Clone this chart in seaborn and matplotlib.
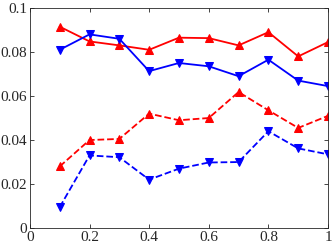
import numpy as np
import matplotlib
matplotlib.use("Agg")
import matplotlib.pyplot as plt
import seaborn as sns
import pandas as pd

x = [0.1, 0.2, 0.3, 0.4, 0.5, 0.6, 0.7, 0.8, 0.9, 1.0]
red_solid = [0.0915, 0.0848, 0.0830, 0.0810, 0.0865, 0.0863, 0.0830, 0.0890, 0.0780, 0.0845]
blue_solid = [0.0810, 0.0880, 0.0860, 0.0713, 0.0750, 0.0735, 0.0690, 0.0765, 0.0670, 0.0645]
red_dashed = [0.0280, 0.0400, 0.0405, 0.0520, 0.0490, 0.0500, 0.0618, 0.0535, 0.0455, 0.0510]
blue_dashed = [0.0095, 0.0330, 0.0322, 0.0220, 0.0270, 0.0298, 0.0300, 0.0440, 0.0362, 0.0335]

sns.set_style("ticks")
plt.rcParams['font.family'] = ['Liberation Serif', 'DejaVu Serif']

fig = plt.figure(figsize=(3.32, 2.49), dpi=100)
ax = fig.add_axes([0.09, 0.084, 0.898, 0.884])

series = [
    (red_solid, 'red', '^', '-'),
    (blue_solid, 'blue', 'v', '-'),
    (red_dashed, 'red', '^', '--'),
    (blue_dashed, 'blue', 'v', '--'),
]
for vals, col, mk, ls in series:
    df = pd.DataFrame({'x': x, 'y': vals})
    sns.lineplot(data=df, x='x', y='y', ax=ax, color=col, marker=mk,
                 linestyle=ls, linewidth=1.3, markersize=6,
                 markeredgecolor=col, markerfacecolor=col)

ax.set_xlim(0, 1)
ax.set_ylim(0, 0.1)
ax.set_xticks([0, 0.2, 0.4, 0.6, 0.8, 1])
ax.set_xticklabels(['0', '0.2', '0.4', '0.6', '0.8', '1'])
ax.set_yticks([0, 0.02, 0.04, 0.06, 0.08, 0.1])
ax.set_yticklabels(['0', '0.02', '0.04', '0.06', '0.08', '0.1'])
ax.set_xlabel('')
ax.set_ylabel('')
for s in ax.spines.values():
    s.set_visible(True)
    s.set_color('#262626')
    s.set_linewidth(0.6)
ax.tick_params(direction='in', top=True, right=True, length=3, width=0.6,
               labelsize=11, colors='#262626', pad=2)

fig.savefig('out.png', dpi=100)
